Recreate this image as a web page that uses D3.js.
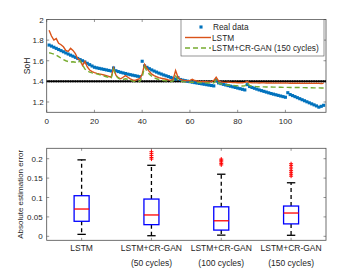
<!DOCTYPE html>
<html><head><meta charset="utf-8">
<script src="https://cdn.jsdelivr.net/npm/d3@7"></script>
<style>
html,body{margin:0;padding:0;background:#fff;}
svg{display:block;font-family:"Liberation Sans",Arial,sans-serif;}
</style></head>
<body><svg id="c" width="360" height="270"></svg>
<script>
// ---------- data ----------
const realData = [1.752,1.742,1.731,1.720,1.709,1.698,1.687,1.676,1.665,1.654,1.644,1.633,1.622,1.611,1.600,1.588,1.575,1.562,1.549,1.537,1.531,1.526,1.521,1.516,1.511,1.506,1.501,
1.530,1.503,1.495,1.488,1.482,1.476,1.470,1.465,1.460,1.455,1.450,1.445,
1.595,1.550,1.536,1.523,1.511,1.500,1.490,1.480,1.471,1.462,1.454,1.446,1.438,1.430,1.422,1.436,1.418,1.412,1.407,1.402,1.397,1.392,1.388,1.384,1.380,1.376,1.372,1.368,1.364,1.360,1.356,
1.408,1.385,1.378,1.371,1.365,1.359,1.353,1.347,1.341,1.335,1.329,1.323,1.317,
1.368,1.350,1.341,1.333,1.325,1.317,1.310,1.303,1.296,1.289,1.282,1.276,1.270,1.264,1.258,1.252,1.246,
1.290,1.272,1.262,1.252,1.242,1.232,1.222,1.212,1.202,1.192,1.182,1.172,1.162,1.150,1.158,1.168];
const lstm = [1.895,1.840,1.800,1.815,1.770,1.755,1.735,1.700,1.690,1.720,1.700,1.670,1.620,1.605,1.555,1.595,1.540,1.510,1.495,1.485,1.478,1.472,1.468,1.462,1.455,1.448,1.440,
1.530,1.460,1.435,1.425,1.440,1.455,1.440,1.425,1.415,1.410,1.418,1.425,
1.470,1.565,1.525,1.495,1.470,1.455,1.445,1.437,1.430,1.425,1.420,1.415,1.412,1.420,1.505,1.440,1.420,1.412,1.408,1.405,1.410,1.420,1.408,1.403,1.400,1.398,1.397,1.396,1.395,1.398,1.410,
1.440,1.405,1.395,1.392,1.390,1.392,1.390,1.388,1.389,1.387,1.388,1.386,1.390,
1.398,1.388,1.386,1.385,1.385,1.384,1.386,1.385,1.384,1.384,1.385,1.383,1.384,1.383,1.384,1.383,1.385,
1.383,1.382,1.383,1.382,1.382,1.383,1.381,1.382,1.381,1.382,1.381,1.381,1.382,1.381,1.380,1.381];
const gan150 = [1.678,1.672,1.665,1.655,1.640,1.625,1.612,1.600,1.592,1.588,1.590,1.585,1.578,1.600,1.560,1.520,1.500,1.490,1.482,1.478,1.472,1.466,1.460,1.452,1.445,1.438,1.430,
1.515,1.455,1.430,1.420,1.418,1.425,1.420,1.410,1.402,1.398,1.395,1.400,
1.440,1.540,1.500,1.470,1.450,1.435,1.425,1.418,1.412,1.408,1.405,1.402,1.398,1.405,1.450,1.415,1.402,1.398,1.395,1.393,1.392,1.392,1.390,1.389,1.388,1.387,1.386,1.385,1.384,1.384,1.385,
1.415,1.385,1.375,1.370,1.367,1.365,1.363,1.361,1.359,1.357,1.356,1.355,1.356,
1.385,1.360,1.352,1.350,1.349,1.348,1.347,1.347,1.346,1.345,1.345,1.344,1.344,1.343,1.343,1.342,1.342,
1.342,1.341,1.341,1.340,1.340,1.340,1.339,1.339,1.338,1.338,1.338,1.337,1.337,1.337,1.336,1.336];
const threshold = 1.4;
const topXTicks = [0,20,40,60,80,100];
const topYTicks = [1.2,1.4,1.6,1.8,2];
const legendLabels = ["Real data","LSTM","LSTM+CR-GAN (150 cycles)"];

const boxCategories = [["LSTM"],["LSTM+CR-GAN","(50 cycles)"],["LSTM+CR-GAN","(100 cycles)"],["LSTM+CR-GAN","(150 cycles)"]];
const boxQ1 = [0.0387,0.030,0.016,0.032];
const boxMedian = [0.0703,0.055,0.040,0.060];
const boxQ3 = [0.1046,0.096,0.076,0.078];
const boxLow = [0.005,0.0015,0.003,0.0026];
const boxHigh = [0.197,0.183,0.160,0.138];
const boxOutliers = [[],[0.199,0.203,0.208,0.213,0.218],[0.184,0.188,0.192,0.196,0.199],[0.155,0.160,0.165,0.170,0.176,0.182,0.187]];
const bottomYTicks = [0,0.05,0.1,0.15,0.2];

// ---------- drawing ----------
const svg = d3.select("#c");
const axCol = "#4d4d4d", txtCol = "#262626", fs = 8;
const blue="#0072BD", orange="#D95319", green="#77AC30";

// top panel
const L=46.7, R=326, T1=19.5, B1=112.3;
const x = d3.scaleLinear().domain([0,117]).range([L,R]);
const y = d3.scaleLinear().domain([1.1,2]).range([B1,T1]);
const topG = svg.append("g");
const idx = realData.map((d,i)=>i+1);

topG.append("rect").attr("x",L).attr("y",T1).attr("width",R-L).attr("height",B1-T1)
  .attr("fill","none").attr("stroke",axCol).attr("stroke-width",0.8);
const tl=2.5;
topXTicks.forEach(t=>{
  topG.append("line").attr("x1",x(t)).attr("x2",x(t)).attr("y1",B1).attr("y2",B1-tl).attr("stroke",axCol).attr("stroke-width",0.6);
  topG.append("line").attr("x1",x(t)).attr("x2",x(t)).attr("y1",T1).attr("y2",T1+tl).attr("stroke",axCol).attr("stroke-width",0.6);
  topG.append("text").attr("x",x(t)).attr("y",B1+11.5).attr("text-anchor","middle").attr("font-size",fs).attr("fill",txtCol).text(t);
});
topYTicks.forEach(t=>{
  topG.append("line").attr("x1",L).attr("x2",L+tl).attr("y1",y(t)).attr("y2",y(t)).attr("stroke",axCol).attr("stroke-width",0.6);
  topG.append("line").attr("x1",R).attr("x2",R-tl).attr("y1",y(t)).attr("y2",y(t)).attr("stroke",axCol).attr("stroke-width",0.6);
  topG.append("text").attr("x",L-3).attr("y",y(t)+3).attr("text-anchor","end").attr("font-size",fs).attr("fill",txtCol).text(t);
});
topG.append("text").attr("transform",`translate(30,${(T1+B1)/2}) rotate(-90)`).attr("text-anchor","middle")
  .attr("font-size",fs+0.5).attr("fill",txtCol).text("SoH");

svg.append("clipPath").attr("id","cp").append("rect").attr("x",L).attr("y",T1).attr("width",R-L).attr("height",B1-T1);
const plot = topG.append("g").attr("clip-path","url(#cp)");

plot.append("line").attr("x1",x(0)).attr("x2",x(117)).attr("y1",y(threshold)).attr("y2",y(threshold)).attr("stroke","#000").attr("stroke-width",1.6);
plot.selectAll(".td").data(d3.range(0,118)).enter().append("circle")
  .attr("cx",d=>x(d)).attr("cy",y(threshold)).attr("r",1.05).attr("fill","#000");

const ms = 3.1;
plot.selectAll(".rd").data(realData).enter().append("rect")
  .attr("x",(d,i)=>x(idx[i])-ms/2).attr("y",d=>y(d)-ms/2).attr("width",ms).attr("height",ms).attr("fill",blue);

const line = d3.line().x((d,i)=>x(idx[i])).y(d=>y(d));
plot.append("path").datum(lstm).attr("d",line).attr("fill","none").attr("stroke",orange).attr("stroke-width",1.4);
plot.append("path").datum(gan150).attr("d",line).attr("fill","none").attr("stroke",green).attr("stroke-width",1.4).attr("stroke-dasharray","5,3");

// legend
const lg = topG.append("g");
lg.append("rect").attr("x",181).attr("y",T1).attr("width",143).attr("height",36.5).attr("fill","#fff").attr("stroke",axCol).attr("stroke-width",0.6);
const ly = [27,37.5,48];
lg.append("rect").attr("x",201-ms/2).attr("y",ly[0]-ms/2).attr("width",ms).attr("height",ms).attr("fill",blue);
lg.append("line").attr("x1",185).attr("x2",211).attr("y1",ly[1]).attr("y2",ly[1]).attr("stroke",orange).attr("stroke-width",1.4);
lg.append("line").attr("x1",185).attr("x2",211).attr("y1",ly[2]).attr("y2",ly[2]).attr("stroke",green).attr("stroke-width",1.4).attr("stroke-dasharray","5,3");
legendLabels.forEach((s,i)=>{
  lg.append("text").attr("x",i===0?213:212).attr("y",ly[i]+3).attr("font-size",fs+0.3).attr("fill",txtCol).text(s);
});

// bottom panel
const T2=148.3, B2=240.3;
const xb = d3.scaleLinear().domain([0.5,4.5]).range([L,R]);
const yb = d3.scaleLinear().domain([-0.0103,0.2268]).range([B2,T2]);
const bot = svg.append("g");
bot.append("rect").attr("x",L).attr("y",T2).attr("width",R-L).attr("height",B2-T2)
  .attr("fill","none").attr("stroke",axCol).attr("stroke-width",0.8);
bottomYTicks.forEach(t=>{
  bot.append("line").attr("x1",L).attr("x2",L+tl).attr("y1",yb(t)).attr("y2",yb(t)).attr("stroke",axCol).attr("stroke-width",0.6);
  bot.append("line").attr("x1",R).attr("x2",R-tl).attr("y1",yb(t)).attr("y2",yb(t)).attr("stroke",axCol).attr("stroke-width",0.6);
  bot.append("text").attr("x",L-4).attr("y",yb(t)+3).attr("text-anchor","end").attr("font-size",fs).attr("fill",txtCol).text(t);
});
bot.append("text").attr("transform",`translate(23,${(T2+B2)/2}) rotate(-90)`).attr("text-anchor","middle")
  .attr("font-size",fs).attr("fill",txtCol).text("Absolute estimation error");

const bw = 0.215, cw = 0.12;
boxCategories.forEach((lab,i)=>{
  const p=i+1, cx=xb(p);
  bot.append("line").attr("x1",cx).attr("x2",cx).attr("y1",B2).attr("y2",B2-tl).attr("stroke",axCol).attr("stroke-width",0.6);
  bot.append("line").attr("x1",cx).attr("x2",cx).attr("y1",T2).attr("y2",T2+tl).attr("stroke",axCol).attr("stroke-width",0.6);
  lab.forEach((s,k)=>{
    bot.append("text").attr("x",cx).attr("y",251+k*14.5).attr("text-anchor","middle").attr("font-size",fs+0.5).attr("fill",txtCol).text(s);
  });
  bot.append("line").attr("x1",cx).attr("x2",cx).attr("y1",yb(boxQ3[i])).attr("y2",yb(boxHigh[i])).attr("stroke","#000").attr("stroke-width",1.3).attr("stroke-dasharray","4,3");
  bot.append("line").attr("x1",cx).attr("x2",cx).attr("y1",yb(boxQ1[i])).attr("y2",yb(boxLow[i])).attr("stroke","#000").attr("stroke-width",1.3).attr("stroke-dasharray","4,3");
  [boxHigh[i],boxLow[i]].forEach(v=>{
    bot.append("line").attr("x1",xb(p-cw/2)).attr("x2",xb(p+cw/2)).attr("y1",yb(v)).attr("y2",yb(v)).attr("stroke","#000").attr("stroke-width",1.3);
  });
  bot.append("rect").attr("x",xb(p-bw/2)).attr("y",yb(boxQ3[i])).attr("width",xb(p+bw/2)-xb(p-bw/2)).attr("height",yb(boxQ1[i])-yb(boxQ3[i]))
    .attr("fill","none").attr("stroke","#0000FF").attr("stroke-width",1.3);
  bot.append("line").attr("x1",xb(p-bw/2)).attr("x2",xb(p+bw/2)).attr("y1",yb(boxMedian[i])).attr("y2",yb(boxMedian[i])).attr("stroke","#FF0000").attr("stroke-width",1.3);
  boxOutliers[i].forEach(v=>{
    const oy=yb(v);
    bot.append("path").attr("d",`M${cx-2},${oy}H${cx+2}M${cx},${oy-2}V${oy+2}`).attr("stroke","#FF0000").attr("stroke-width",1);
  });
});
</script></body></html>
